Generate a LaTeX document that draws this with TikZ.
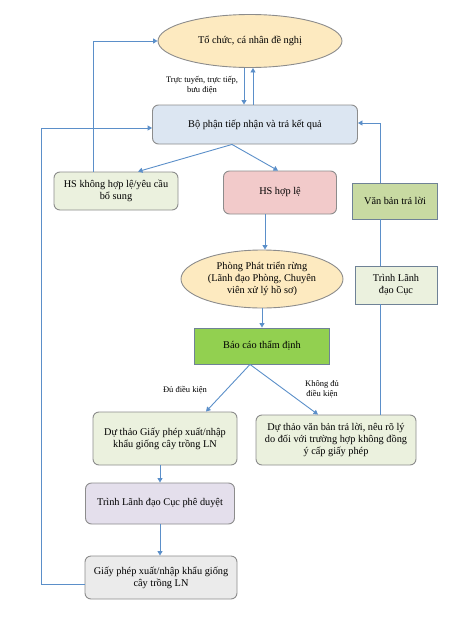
\documentclass[tikz,border=0pt]{standalone}
\usepackage{fontspec}
\setmainfont{Liberation Serif}
\usetikzlibrary{shapes.geometric,arrows.meta}
\definecolor{arrowblue}{HTML}{5B8FC9}
\definecolor{edgegray}{HTML}{8C8C8C}
\definecolor{edgeslate}{HTML}{6F8296}
\definecolor{fillyellow}{HTML}{FDEAC0}
\definecolor{fillblue}{HTML}{DCE6F2}
\definecolor{filllightgreen}{HTML}{EBF1DE}
\definecolor{fillpink}{HTML}{F2CACA}
\definecolor{fillgreen}{HTML}{C8DAA2}
\definecolor{fillbrightgreen}{HTML}{92D050}
\definecolor{filllilac}{HTML}{E4DFEC}
\definecolor{fillgray}{HTML}{EBEBEB}
\tikzset{
  roundbox/.style={draw=edgegray, line width=0.9pt, rounded corners=6pt, align=center, inner sep=2pt},
  flatbox/.style={draw=edgeslate, line width=0.9pt, align=center, inner sep=2pt},
  oval/.style={draw=edgegray, line width=0.9pt, ellipse, align=center, inner sep=0pt},
  arr/.style={draw=arrowblue, line width=0.9pt, -{Triangle[width=5pt,length=4.5pt]}},
  link/.style={draw=arrowblue, line width=0.9pt},
  lbl/.style={font=\fontsize{8.5}{9.8}\selectfont, align=center, inner sep=0pt},
}
\begin{document}
\begin{tikzpicture}[x=1pt,y=-1pt,font=\fontsize{10.3}{11.8}\selectfont]
        \useasboundingbox (0,0) rectangle (476,619);
        
        % Applicant and reception desk
        \node [oval, fill=fillyellow, minimum width=184pt, minimum height=53pt] (tochuc) at (250,41) {Tổ chức, cá nhân đề nghị};%
        \node [roundbox, fill=fillblue, minimum width=205pt, minimum height=39pt] (bophan) at (255,124.5) {Bộ phận tiếp nhận và trả kết quả};%
        \node [lbl] (kenh) at (202,85) {Trực tuyến, trực tiếp,\\bưu điện};%
        
        % Checking the dossier
        \node [roundbox, fill=filllightgreen, minimum width=124pt, minimum height=38pt] (hskhong) at (116,191) {HS không hợp lệ/yêu cầu\\bổ sung};%
        \node [roundbox, fill=fillpink, minimum width=113pt, minimum height=43pt] (hshople) at (280,192.5) {HS hợp lệ};%
        \node [flatbox, fill=fillgreen, minimum width=85pt, minimum height=36pt] (vanban) at (395,201) {Văn bản trả lời};%
        \node [flatbox, fill=filllightgreen, minimum width=82pt, minimum height=38pt] (trinhcuc) at (396,285) {Trình Lãnh\\đạo Cục};%
        
        % Appraisal
        \node [oval, fill=fillyellow, minimum width=162pt, minimum height=58pt] (phong) at (262,279) {Phòng Phát triển rừng\\(Lãnh đạo Phòng, Chuyên\\viên xử lý hồ sơ)};%
        \node [flatbox, fill=fillbrightgreen, minimum width=135pt, minimum height=36pt] (baocao) at (262,346) {Báo cáo thẩm định};%
        \node [lbl] (du) at (185,390) {Đủ điều kiện};%
        \node [lbl] (khongdu) at (322,389) {Không đủ\\điều kiện};%
        
        % Drafts and licence
        \node [roundbox, fill=filllightgreen, minimum width=144pt, minimum height=53pt] (dtgp) at (165,438.5) {Dự thảo Giấy phép xuất/nhập\\khẩu giống cây trồng LN};%
        \node [roundbox, fill=filllightgreen, minimum width=160pt, minimum height=50pt] (dtvb) at (336,440) {Dự thảo văn bản trả lời, nêu rõ lý\\do đối với trường hợp không đồng\\ý cấp giấy phép};%
        \node [roundbox, fill=filllilac, minimum width=149pt, minimum height=41pt] (trinhpd) at (160,503.5) {Trình Lãnh đạo Cục phê duyệt};%
        \node [roundbox, fill=fillgray, minimum width=152pt, minimum height=43pt] (giayphep) at (161,577.5) {Giấy phép xuất/nhập khẩu giống\\cây trồng LN};%
        
        % Connectors at the top
        \draw [arr] ([xshift=-6pt]tochuc.south) -- ([xshift=-11pt]bophan.north);%
        \draw [arr] ([xshift=-2pt]bophan.north) -- ([xshift=3pt]tochuc.south);%
        \draw [arr] ([xshift=-23pt]bophan.south) -- ([xshift=22pt]hskhong.north);%
        \draw [arr] ([xshift=-23pt]bophan.south) -- ([xshift=-2pt]hshople.north);%
        \draw [arr] ([xshift=-23pt]hskhong.north) |- (tochuc.west);%
        
        % Connectors in the middle
        \draw [arr] ([xshift=-15pt]hshople.south) -- ([xshift=-15pt]hshople.south |- phong.north);%
        \draw [arr] (phong.south) -- (baocao.north);%
        \draw [arr] ([xshift=-12pt]baocao.south) -- ([xshift=41pt]dtgp.north);%
        \draw [arr] ([xshift=-12pt]baocao.south) -- ([xshift=-18pt]dtvb.north);%
        
        % Reply path on the right
        \draw [link] ([xshift=44pt]dtvb.north) -- ([xshift=-16pt]trinhcuc.south);%
        \draw [link] ([xshift=-16pt]trinhcuc.north) -- ([xshift=-15pt]vanban.south);%
        \draw [arr] ([xshift=-15pt]vanban.north) |- ([yshift=1.5pt]bophan.east);%
        
        % Licence path on the left
        \draw [arr] (dtgp.south -| trinhpd.north) -- (trinhpd.north);%
        \draw [arr] (trinhpd.south) -- (trinhpd.south |- giayphep.north);%
        \draw [arr] ([yshift=-7pt]giayphep.west) -- ++(-43,0) |- ([yshift=-3.5pt]bophan.west);%
    \end{tikzpicture}
\end{document}
